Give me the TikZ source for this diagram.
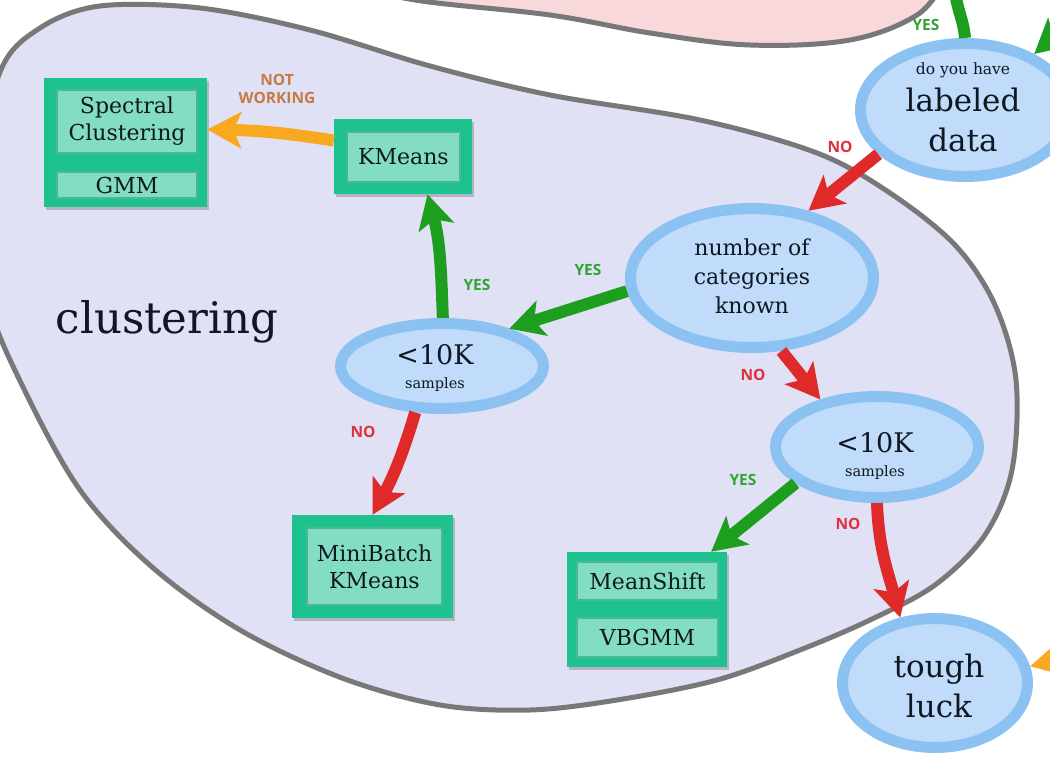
\documentclass[tikz,border=0pt]{standalone}
\usepackage{fontspec}
\setmainfont{DejaVu Serif}
\newfontfamily\lblfont{Open Sans}
\usetikzlibrary{arrows.meta,shapes.geometric,shadows,calc}
\definecolor{lav}{HTML}{E1E1F5}
\definecolor{pinkf}{HTML}{F9D8DB}
\definecolor{blobedge}{HTML}{787878}
\definecolor{ringb}{HTML}{8CC2F1}
\definecolor{ellf}{HTML}{C0DCFA}
\definecolor{boxg}{HTML}{1FC28E}
\definecolor{boxl}{HTML}{83DDC2}
\definecolor{boxe}{HTML}{48B896}
\definecolor{yesg}{HTML}{1E9E1E}
\definecolor{nor}{HTML}{E02A2A}
\definecolor{orng}{HTML}{F8A91F}
\definecolor{ylab}{HTML}{33A333}
\definecolor{nlab}{HTML}{E0303A}
\definecolor{nwlab}{HTML}{C57A45}
\definecolor{txt}{HTML}{0F1822}
\tikzset{
  shd/.style={drop shadow={shadow xshift=2pt,shadow yshift=-3pt,opacity=0.2,fill=black}},
  ell/.style={ellipse,draw=ringb,line width=11pt,fill=ellf,inner sep=0pt,shd},
  obox/.style={rectangle,fill=boxg,inner sep=0pt,shd},
  ibox/.style={rectangle,fill=boxl,draw=boxe,line width=2pt,inner sep=0pt,text=txt,
    align=center,font=\fontsize{22}{27}\selectfont},
  etxt/.style={anchor=base,text=txt,inner sep=0pt},
  lbl/.style={font=\lblfont\bfseries\fontsize{15.5}{17.5}\selectfont,inner sep=0pt,align=center},
  ylbl/.style={lbl,text=ylab},
  nlbl/.style={lbl,text=nlab},
  arr/.style={line width=12pt,-{Stealth[width=36pt,length=34pt,inset=8pt]}},
  yesarr/.style={arr,draw=yesg},
  noarr/.style={arr,draw=nor},
  orarr/.style={arr,draw=orng},
}
\begin{document}
\begin{tikzpicture}[x=1pt,y=-1pt]
\useasboundingbox (0,0) rectangle (1050,757);
\clip (0,0) rectangle (1050,757);
\fill[white] (0,0) rectangle (1050,757);
% regions
\draw[fill=pinkf,draw=blobedge,line width=5pt] plot[smooth,tension=0.6] coordinates
  {(330,-20) (415,0) (550,15) (650,33) (750,45) (850,40) (917,15) (945,-20)} -- cycle;
\draw[fill=lav,draw=blobedge,line width=5pt] plot[smooth cycle,tension=0.55] coordinates
  {(-25,190) (0,72) (40,28) (100,6) (200,8) (310,30) (430,66) (550,95) (700,120)
   (817,153) (890,193) (955,245) (995,305) (1016,380) (1012,470) (985,535) (935,585)
   (870,620) (800,650) (717,680) (617,700) (530,710) (440,705) (342,678) (240,630)
   (152,567) (80,490) (22,385) (-12,300)};
\node[font=\fontsize{43.5}{50}\selectfont,text=txt,anchor=base,inner sep=0pt] (cl) at (167,333) {clustering};
% decision ellipses
\node[ell,minimum width=209pt,minimum height=133pt] (lab) at (965,110) {};
\node[ell,minimum width=243pt,minimum height=139pt] (ncat) at (752,278) {};
\node[ell,minimum width=203pt,minimum height=85pt] (s1) at (442,366) {};
\node[ell,minimum width=203pt,minimum height=101pt] (s2) at (877,447) {};
\node[ell,minimum width=185pt,minimum height=129pt] (tough) at (935,683) {};
\node[etxt,font=\fontsize{15.5}{18}\selectfont] (labt1) at (963,75) {do you have};
\node[etxt,font=\fontsize{31}{36}\selectfont] (labt2) at (963,112) {labeled};
\node[etxt,font=\fontsize{31}{36}\selectfont] (labt3) at (963,152) {data};
\node[etxt,font=\fontsize{22}{27}\selectfont] (nct1) at (752,255) {number of};
\node[etxt,font=\fontsize{22}{27}\selectfont] (nct2) at (752,284) {categories};
\node[etxt,font=\fontsize{22}{27}\selectfont] (nct3) at (752,313) {known};
\node[etxt,font=\fontsize{27}{30}\selectfont] (s1t1) at (435,364) {<10K};
\node[etxt,font=\fontsize{14.5}{17}\selectfont] (s1t2) at (435,388) {samples};
\node[etxt,font=\fontsize{27}{30}\selectfont] (s2t1) at (875,452) {<10K};
\node[etxt,font=\fontsize{14.5}{17}\selectfont] (s2t2) at (875,476) {samples};
\node[etxt,font=\fontsize{31}{36}\selectfont] (tt1) at (939,677) {tough};
\node[etxt,font=\fontsize{31}{36}\selectfont] (tt2) at (939,717) {luck};
% estimator boxes
\node[obox,minimum width=138pt,minimum height=75pt] (km) at (403,156.5) {};
\node[ibox,minimum width=113pt,minimum height=50pt] (kmi) at (403.5,157) {KMeans};
\node[obox,minimum width=163pt,minimum height=129pt] (spec) at (125.5,142.5) {};
\node[ibox,minimum width=140pt,minimum height=63pt] (speci) at (127,121.5) {Spectral\\Clustering};
\node[ibox,minimum width=140pt,minimum height=26pt] (gmm) at (127,185) {GMM};
\node[obox,minimum width=161pt,minimum height=103pt] (mb) at (372.5,566.5) {};
\node[ibox,minimum width=135pt,minimum height=77pt] (mbi) at (374.5,566.5) {MiniBatch\\KMeans};
\node[obox,minimum width=160pt,minimum height=115pt] (msg) at (647,609.5) {};
\node[ibox,minimum width=141pt,minimum height=38pt] (ms) at (647.5,581) {MeanShift};
\node[ibox,minimum width=141pt,minimum height=39pt] (vb) at (647.5,637.5) {VBGMM};
% off-picture ends
\coordinate (topout) at (955,-10);
\coordinate (trin) at (1085,10);
\coordinate (oin) at (1100,650);
% connectors
\draw[yesg,line width=12pt] (lab.90) to[out=95,in=-85] (topout);
\draw[yesarr] (trin) -- (lab.39);
\draw[orarr] (oin) -- (tough.10);
\draw[noarr] (lab.207) -- (ncat.50);
\draw[yesarr] (ncat.186) -- (s1.29);
\draw[noarr] (ncat.-68) -- (s2.140);
\draw[yesarr] (s1.89) to[out=92,in=-75] (km.-57);
\draw[noarr] (s1.240) to[bend left=6] (mb.north);
\draw[orarr] (km.167) to[bend right=4] (spec.9);
\draw[yesarr] (s2.204) -- (msg.42);
\draw[noarr] (s2.-90) to[out=-88,in=105] (tough.118);
% labels
\node[ylbl] (l1) at (926,25) {YES};
\node[nlbl] (l2) at (840,147) {NO};
\node[ylbl] (l3) at (588,270) {YES};
\node[nlbl] (l4) at (753,375) {NO};
\node[ylbl] (l5) at (477,285) {YES};
\node[nlbl] (l6) at (363,432) {NO};
\node[lbl,text=nwlab] (l7) at (277,89) {NOT\\WORKING};
\node[ylbl] (l8) at (743,480) {YES};
\node[nlbl] (l9) at (848,524) {NO};
\end{tikzpicture}
\end{document}
